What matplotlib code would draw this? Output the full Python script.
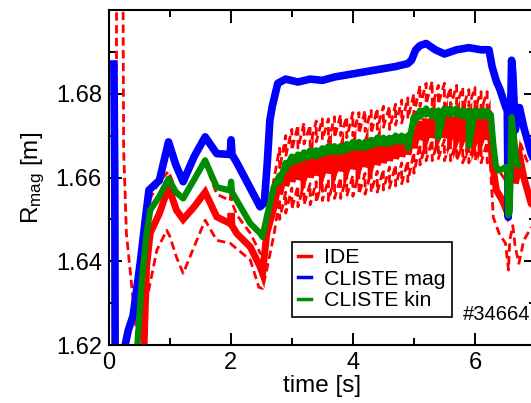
import numpy as np
import matplotlib
matplotlib.use('Agg')
from matplotlib import pyplot as plt
from matplotlib.lines import Line2D

plt.rcParams['font.family'] = ['Liberation Sans', 'DejaVu Sans']
plt.rcParams['mathtext.fontset'] = 'custom'
plt.rcParams['mathtext.rm'] = 'Liberation Sans'
plt.rcParams['mathtext.it'] = 'Liberation Sans:italic'

# ELM teeth (2.8 s .. 6.2 s), shared by the IDE and CLISTE kin traces
tooth_t = [2.8, 2.9, 3.0, 3.1, 3.2, 3.3, 3.4, 3.5, 3.6, 3.7, 3.8, 3.9, 4.0, 4.1, 4.2, 4.3, 4.4, 4.5,
           4.6, 4.7, 4.8, 4.9, 5.0, 5.1, 5.2, 5.3, 5.4, 5.5, 5.6, 5.7, 5.8, 5.9, 6.0, 6.1, 6.2]

# IDE (solid)
ide_t0 = [0.56, 0.58, 0.62, 0.68, 0.83, 0.98, 1.11, 1.22, 1.40, 1.58, 1.77, 1.99, 2.005, 2.02, 2.10,
          2.32, 2.48, 2.52, 2.59, 2.71]
ide_r0 = [1.615, 1.620, 1.6387, 1.6467, 1.6514, 1.6577, 1.6522, 1.6500, 1.6530, 1.6565, 1.6506, 1.6490,
          1.6515, 1.6485, 1.6466, 1.6434, 1.6387, 1.6371, 1.6467, 1.6530]
ide_lo = [1.6560, 1.6580, 1.6590, 1.6595, 1.6600, 1.6600, 1.6605, 1.6610, 1.6610, 1.6615, 1.6615, 1.6620,
          1.6620, 1.6625, 1.6625, 1.6630, 1.6630, 1.6635, 1.6640, 1.6645, 1.6650, 1.6655, 1.6670, 1.6690,
          1.6695, 1.6695, 1.6700, 1.6695, 1.6700, 1.6695, 1.6695, 1.6690, 1.6690, 1.6690, 1.6690]
ide_hi = [1.6605, 1.6625, 1.6635, 1.6640, 1.6645, 1.6645, 1.6650, 1.6655, 1.6655, 1.6660, 1.6660, 1.6665,
          1.6665, 1.6670, 1.6670, 1.6675, 1.6675, 1.6680, 1.6685, 1.6690, 1.6695, 1.6700, 1.6715, 1.6735,
          1.6740, 1.6740, 1.6745, 1.6740, 1.6745, 1.6740, 1.6740, 1.6735, 1.6735, 1.6735, 1.6735]
ide_t1 = [6.25, 6.28, 6.35, 6.45, 6.52, 6.56, 6.60, 6.63, 6.66, 6.70, 6.74, 6.80, 6.92, 7.10]
ide_r1 = [1.6725, 1.6640, 1.6570, 1.6545, 1.6520, 1.6550, 1.6832, 1.6700, 1.6586, 1.6610, 1.6645, 1.6600,
          1.6538, 1.6520]

# IDE upper error bound (dashed)
up_t0 = [0.42, 0.50, 0.60, 0.68, 0.83, 0.98, 1.10, 1.22, 1.40, 1.58, 1.77, 1.99, 2.005, 2.02, 2.10, 2.32,
         2.48, 2.52, 2.60, 2.70]
up_r0 = [1.612, 1.628, 1.645, 1.655, 1.659, 1.6615, 1.657, 1.6555, 1.659, 1.6635, 1.656, 1.6545, 1.657,
         1.654, 1.651, 1.6467, 1.642, 1.6415, 1.650, 1.659]
up_lo = [1.6620, 1.6650, 1.6665, 1.6670, 1.6680, 1.6675, 1.6685, 1.6690, 1.6685, 1.6695, 1.6700, 1.6695,
         1.6700, 1.6705, 1.6710, 1.6705, 1.6715, 1.6720, 1.6715, 1.6725, 1.6730, 1.6740, 1.6750, 1.6770,
         1.6775, 1.6770, 1.6775, 1.6770, 1.6770, 1.6775, 1.6765, 1.6770, 1.6765, 1.6760, 1.6765]
up_hi = [1.6670, 1.6700, 1.6715, 1.6725, 1.6730, 1.6725, 1.6735, 1.6740, 1.6740, 1.6745, 1.6750, 1.6745,
         1.6755, 1.6755, 1.6760, 1.6760, 1.6765, 1.6770, 1.6770, 1.6775, 1.6785, 1.6790, 1.6800, 1.6820,
         1.6825, 1.6830, 1.6820, 1.6825, 1.6815, 1.6820, 1.6815, 1.6810, 1.6815, 1.6805, 1.6805]
up_t1 = [6.25, 6.30, 6.40, 6.50, 6.55, 6.60, 6.63, 6.67, 6.75, 6.85, 6.92, 7.10]
up_r1 = [1.6770, 1.6648, 1.6615, 1.6593, 1.6620, 1.6808, 1.6720, 1.6665, 1.6680, 1.6640, 1.6632, 1.6620]

# IDE lower error bound (dashed)
dn_t0 = [0.12, 0.13, 0.23, 0.245, 0.29, 0.40, 0.48, 0.51, 0.55, 0.64, 0.79, 0.95, 1.00, 1.11, 1.22, 1.26,
         1.40, 1.58, 1.77, 1.99, 2.32, 2.46, 2.52, 2.60, 2.71]
dn_r0 = [1.58, 1.72, 1.72, 1.6665, 1.6467, 1.6307, 1.620, 1.616, 1.621, 1.632, 1.6427, 1.6474, 1.646,
         1.641, 1.6371, 1.6385, 1.6435, 1.6498, 1.645, 1.6443, 1.6403, 1.6338, 1.6335, 1.6387, 1.6466]
dn_lo = [1.6500, 1.6515, 1.6525, 1.6530, 1.6535, 1.6535, 1.6540, 1.6545, 1.6545, 1.6550, 1.6550, 1.6555,
         1.6555, 1.6560, 1.6560, 1.6565, 1.6565, 1.6570, 1.6575, 1.6580, 1.6585, 1.6590, 1.6610, 1.6630,
         1.6640, 1.6640, 1.6645, 1.6640, 1.6640, 1.6640, 1.6635, 1.6635, 1.6640, 1.6635, 1.6635]
dn_hi = [1.6550, 1.6565, 1.6575, 1.6580, 1.6585, 1.6585, 1.6590, 1.6595, 1.6595, 1.6600, 1.6600, 1.6605,
         1.6605, 1.6610, 1.6610, 1.6615, 1.6615, 1.6620, 1.6625, 1.6630, 1.6635, 1.6640, 1.6660, 1.6680,
         1.6690, 1.6690, 1.6695, 1.6690, 1.6690, 1.6690, 1.6685, 1.6685, 1.6690, 1.6685, 1.6685]
dn_t1 = [6.25, 6.30, 6.40, 6.50, 6.55, 6.57, 6.62, 6.66, 6.72, 6.80, 6.92, 7.10]
dn_r1 = [1.6640, 1.6505, 1.6465, 1.6443, 1.6379, 1.6450, 1.6485, 1.6434, 1.6395, 1.6450, 1.6480, 1.6460]

# CLISTE kin
kin_t0 = [0.44, 0.47, 0.55, 0.62, 0.68, 0.83, 0.98, 1.10, 1.22, 1.40, 1.58, 1.77, 1.99, 2.005, 2.02, 2.10,
          2.32, 2.48, 2.52, 2.59, 2.70]
kin_r0 = [1.612, 1.620, 1.6366, 1.6465, 1.6522, 1.6555, 1.6597, 1.6565, 1.6550, 1.6595, 1.6641, 1.6577,
          1.6569, 1.6590, 1.6565, 1.6545, 1.6490, 1.6467, 1.6458, 1.6506, 1.6575]
kin_lo = [1.6590, 1.6620, 1.6635, 1.6640, 1.6645, 1.6650, 1.6650, 1.6655, 1.6660, 1.6660, 1.6660, 1.6665,
          1.6670, 1.6670, 1.6670, 1.6675, 1.6680, 1.6680, 1.6680, 1.6685, 1.6685, 1.6670, 1.6730, 1.6745,
          1.6750, 1.6745, 1.6695, 1.6750, 1.6750, 1.6750, 1.6745, 1.6675, 1.6745, 1.6745, 1.6745]
kin_hi = [1.6605, 1.6635, 1.6650, 1.6655, 1.6660, 1.6665, 1.6665, 1.6670, 1.6675, 1.6675, 1.6675, 1.6680,
          1.6685, 1.6685, 1.6685, 1.6690, 1.6695, 1.6695, 1.6695, 1.6700, 1.6700, 1.6700, 1.6745, 1.6760,
          1.6765, 1.6760, 1.6760, 1.6765, 1.6765, 1.6765, 1.6760, 1.6760, 1.6760, 1.6760, 1.6760]
kin_t1 = [6.26, 6.30, 6.34, 6.38, 6.45, 6.50, 6.53, 6.545, 6.57, 6.60, 6.62, 6.68, 6.70]
kin_r1 = [1.6750, 1.6680, 1.6630, 1.6617, 1.6620, 1.6625, 1.6620, 1.6510, 1.6520, 1.6744, 1.6720, 1.6640,
          1.6630]

# CLISTE mag
mag_t = [0.085, 0.10, 0.11, 0.25, 0.27, 0.32, 0.40, 0.52, 0.60, 0.66, 0.83, 0.98, 1.10, 1.22, 1.40, 1.58,
         1.77, 1.99, 2.005, 2.02, 2.10, 2.30, 2.48, 2.55, 2.60, 2.64, 2.68, 2.77, 2.90, 3.10, 3.30, 3.50,
         3.70, 3.90, 4.10, 4.30, 4.50, 4.70, 4.90, 4.96, 5.03, 5.10, 5.20, 5.35, 5.50, 5.70, 5.90, 6.10,
         6.23, 6.28, 6.35, 6.41, 6.50, 6.53, 6.545, 6.56, 6.60, 6.62, 6.66, 6.73, 6.80, 6.92, 7.10]
mag_r = [1.6871, 1.660, 1.580, 1.580, 1.620, 1.6235, 1.627, 1.640, 1.650, 1.657, 1.6593, 1.6685, 1.663,
         1.659, 1.665, 1.6697, 1.6657, 1.6655, 1.6690, 1.6655, 1.6635, 1.658, 1.653, 1.654, 1.664, 1.6736,
         1.677, 1.6825, 1.6835, 1.6828, 1.6835, 1.6832, 1.684, 1.6845, 1.685, 1.6855, 1.686, 1.6865,
         1.6872, 1.688, 1.6905, 1.6915, 1.692, 1.6905, 1.6895, 1.6905, 1.691, 1.6905, 1.6905, 1.6865,
         1.683, 1.681, 1.677, 1.676, 1.6505, 1.655, 1.688, 1.685, 1.6713, 1.6767, 1.672, 1.6657, 1.660]

red = '#ff0000'
blue = '#0000ff'
green = '#008c00'


# join the slow part, the ELM teeth and the end of the shot into one trace
def trace(t0, r0, lo, hi, t1, r1):
    tt = np.concatenate([t0, np.repeat(tooth_t, 2), t1])
    rr = np.concatenate([r0, np.column_stack([hi, lo]).ravel(), r1])
    return tt, rr


fig = plt.figure(figsize=(5.31, 4.03), dpi=100)
ax = fig.add_axes([0.2047, 0.1439, 0.8047, 0.8313])

t, r = trace(dn_t0, dn_r0, dn_lo, dn_hi, dn_t1, dn_r1)
ax.plot(t, r, color=red, lw=2.0, dashes=(3, 1.6))
t, r = trace(up_t0, up_r0, up_lo, up_hi, up_t1, up_r1)
ax.plot(t, r, color=red, lw=2.0, dashes=(3, 1.6))
t, r = trace(ide_t0, ide_r0, ide_lo, ide_hi, ide_t1, ide_r1)
ax.plot(t, r, color=red, lw=5.0, solid_joinstyle='miter')
ax.plot(mag_t, mag_r, color=blue, lw=5.5)
t, r = trace(kin_t0, kin_r0, kin_lo, kin_hi, kin_t1, kin_r1)
ax.plot(t, r, color=green, lw=4.5)

ax.set_xlim(0, 7)
ax.set_ylim(1.62, 1.70)
ax.set_xticks([0, 2, 4, 6])
ax.set_xticks([1, 3, 5], minor=True)
ax.set_yticks([1.62, 1.64, 1.66, 1.68])
ax.set_yticks([1.63, 1.65, 1.67, 1.69], minor=True)
ax.tick_params(which='both', direction='in', top=True, right=True, width=1.4, labelsize=17, pad=5)
ax.tick_params(which='major', length=9)
ax.tick_params(which='minor', length=5)
for s in ax.spines.values():
    s.set_linewidth(1.5)

ax.set_xlabel('time [s]', fontsize=17.5, labelpad=1)
ax.set_ylabel(r'R$_{\rm mag}$ [m]', fontsize=17.5, labelpad=6)

ax.text(5.8, 1.6273, '#34664', fontsize=14.5, va='center', ha='left')

handles = [Line2D([], [], color=red, lw=2.5),
           Line2D([], [], color=blue, lw=2.5),
           Line2D([], [], color=green, lw=2.5)]
leg = ax.legend(handles, ['IDE', 'CLISTE mag', 'CLISTE kin'], loc='upper left',
                bbox_to_anchor=(0.429, 0.3075), borderaxespad=0, fontsize=15.3,
                handlelength=0.6, handletextpad=0.6, labelspacing=0.12, borderpad=0.3,
                fancybox=False, framealpha=1)
leg.get_frame().set_edgecolor('black')
leg.get_frame().set_linewidth(1.2)

plt.savefig('out.png', dpi=100)
